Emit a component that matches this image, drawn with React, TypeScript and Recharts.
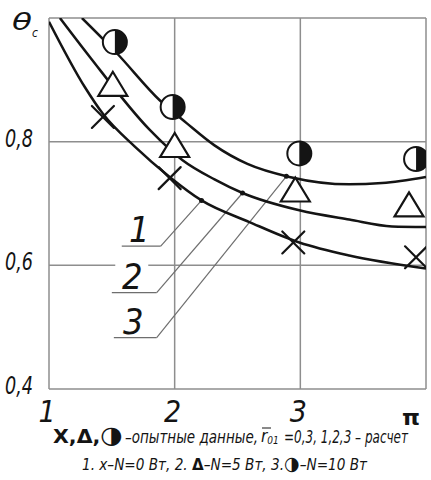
import React from 'react';
import {
  ComposedChart,
  Line,
  Scatter,
  XAxis,
  YAxis,
  CartesianGrid,
  ReferenceLine,
  ReferenceDot,
} from 'recharts';

// ---- axes ----
const xTicks = [1, 2, 3, 4];
const xTickLabels = ['1', '2', '3', ''];
const yTicks = [0.4, 0.6, 0.8, 1.0];
const yTickLabels = ['0,4', '0,6', '0,8', ''];

// ---- calculated curves (1: N=0, 2: N=5, 3: N=10 W) ----
const curveN0 = [
  { x: 1.0, y: 0.994 },
  { x: 1.286, y: 0.888 },
  { x: 1.429, y: 0.845 },
  { x: 1.683, y: 0.792 },
  { x: 1.96, y: 0.743 },
  { x: 2.214, y: 0.705 },
  { x: 2.595, y: 0.67 },
  { x: 2.992, y: 0.637 },
  { x: 3.389, y: 0.616 },
  { x: 4.0, y: 0.595 },
];
const curveN5 = [
  { x: 1.087, y: 1.0 },
  { x: 1.325, y: 0.937 },
  { x: 1.802, y: 0.819 },
  { x: 2.063, y: 0.77 },
  { x: 2.317, y: 0.739 },
  { x: 2.54, y: 0.717 },
  { x: 2.992, y: 0.689 },
  { x: 3.389, y: 0.674 },
  { x: 3.73, y: 0.663 },
  { x: 4.0, y: 0.662 },
];
const curveN10 = [
  { x: 1.262, y: 1.0 },
  { x: 1.54, y: 0.943 },
  { x: 1.881, y: 0.867 },
  { x: 2.095, y: 0.83 },
  { x: 2.317, y: 0.794 },
  { x: 2.579, y: 0.764 },
  { x: 2.913, y: 0.743 },
  { x: 3.389, y: 0.731 },
  { x: 3.651, y: 0.733 },
  { x: 4.0, y: 0.743 },
];

// ---- experimental points ----
const expN0 = [
  { x: 1.429, y: 0.84 },
  { x: 1.96, y: 0.741 },
  { x: 2.944, y: 0.637 },
  { x: 3.921, y: 0.613 },
];
const expN5 = [
  { x: 1.508, y: 0.892 },
  { x: 2.0, y: 0.793 },
  { x: 2.96, y: 0.721 },
  { x: 3.865, y: 0.697 },
];
const expN10 = [
  { x: 1.524, y: 0.961 },
  { x: 1.984, y: 0.856 },
  { x: 2.992, y: 0.781 },
  { x: 3.921, y: 0.772 },
];

// ---- curve labels with leader lines ----
const curveLabels = ['1', '2', '3'];
const labelAnchors = [
  { x1: 1.579, x2: 1.889, y: 0.631, tx: 2.214, ty: 0.705 },
  { x1: 1.5, x2: 1.857, y: 0.556, tx: 2.54, ty: 0.717 },
  { x1: 1.516, x2: 1.857, y: 0.483, tx: 2.889, ty: 0.744 },
];

const narrow = "'Liberation Sans Narrow', 'DejaVu Sans Condensed', 'Liberation Sans', sans-serif";
const dejavu = "'DejaVu Sans', sans-serif";
const ink = '#141414';
const gridColor = '#8e8e8e';

const XTick = (props: any) => {
  const { x, y, payload } = props;
  const i = xTicks.indexOf(payload.value);
  return (
    <text x={x - 2} y={y + 33} textAnchor="middle" fontSize={30} fontStyle="italic"
      fontFamily={narrow} fill={ink}>
      {xTickLabels[i]}
    </text>
  );
};

const YTick = (props: any) => {
  const { x, y, payload } = props;
  const i = yTicks.indexOf(payload.value);
  if (!yTickLabels[i]) return <g />;
  return (
    <text x={x - 44} y={y + 5} textAnchor="start" fontSize={24} fontStyle="italic"
      fontFamily={narrow} fill={ink} textLength={28} lengthAdjust="spacingAndGlyphs">
      {yTickLabels[i]}
    </text>
  );
};

const CrossShape = (p: any) => {
  const { cx, cy } = p;
  const s = 11;
  return (
    <g stroke={ink} strokeWidth={2.2} strokeLinecap="round">
      <line x1={cx - s} y1={cy - s} x2={cx + s} y2={cy + s} />
      <line x1={cx - s} y1={cy + s} x2={cx + s} y2={cy - s} />
    </g>
  );
};

const TriangleShape = (p: any) => {
  const { cx, cy } = p;
  return (
    <polygon
      points={`${cx},${cy - 13} ${cx - 14.5},${cy + 11} ${cx + 14.5},${cy + 11}`}
      fill="#fff" stroke={ink} strokeWidth={2.2} strokeLinejoin="miter" />
  );
};

const HalfCircleShape = (p: any) => {
  const { cx, cy } = p;
  const r = 12;
  return (
    <g>
      <circle cx={cx} cy={cy} r={r} fill="#fff" stroke={ink} strokeWidth={2} />
      <path d={`M ${cx} ${cy - r} A ${r} ${r} 0 0 1 ${cx} ${cy + r} Z`} fill={ink} />
    </g>
  );
};

const makeLabelShape = (text: string, withBg: boolean) => (p: any) => {
  const { cx, cy } = p;
  return (
    <g>
      {withBg && <rect x={cx - 19} y={cy - 32} width={33} height={28} fill="#fff" />}
      <text x={cx - 2} y={cy - 4} textAnchor="middle" fontSize={36} fontStyle="italic"
        fontFamily={narrow} fill={ink}>
        {text}
      </text>
    </g>
  );
};

export default function App() {
  return (
    <div style={{ position: 'absolute', left: 0, top: 0, width: 431, height: 480, background: '#fff' }}>
      <ComposedChart width={431} height={480} margin={{ top: 18, right: 5, bottom: 0, left: 0 }}>
        <CartesianGrid stroke={gridColor} strokeWidth={1.5} />
        <XAxis dataKey="x" type="number" domain={[1, 4]} ticks={xTicks} allowDataOverflow
          axisLine={false} tickLine={false} tickSize={0} tickMargin={0} height={91}
          tick={<XTick />} interval={0} />
        <YAxis type="number" domain={[0.4, 1.0]} ticks={yTicks} allowDataOverflow
          axisLine={false} tickLine={false} tickSize={0} tickMargin={0} width={49}
          tick={<YTick />} interval={0} />

        {labelAnchors.map((a, i) => (
          <ReferenceLine key={'u' + i} segment={[{ x: a.x1, y: a.y }, { x: a.x2, y: a.y }]}
            stroke="#6e6e6e" strokeWidth={1.2} ifOverflow="visible" />
        ))}
        {labelAnchors.map((a, i) => (
          <ReferenceLine key={'l' + i} segment={[{ x: a.x2, y: a.y }, { x: a.tx, y: a.ty }]}
            stroke="#6e6e6e" strokeWidth={1.2} ifOverflow="visible" />
        ))}
        {labelAnchors.map((a, i) => (
          <ReferenceDot key={'t' + i} x={(a.x1 + a.x2) / 2} y={a.y} ifOverflow="visible"
            shape={makeLabelShape(curveLabels[i], i === 1)} />
        ))}

        <Line data={curveN0} dataKey="y" type="monotone" stroke={ink} strokeWidth={2.5}
          dot={false} activeDot={false} isAnimationActive={false} />
        <Line data={curveN5} dataKey="y" type="monotone" stroke={ink} strokeWidth={2.5}
          dot={false} activeDot={false} isAnimationActive={false} />
        <Line data={curveN10} dataKey="y" type="monotone" stroke={ink} strokeWidth={2.5}
          dot={false} activeDot={false} isAnimationActive={false} />

        {labelAnchors.map((a, i) => (
          <ReferenceDot key={'d' + i} x={a.tx} y={a.ty} r={2.5} fill={ink} stroke="none"
            ifOverflow="visible" />
        ))}

        <Scatter data={expN0} dataKey="y" shape={<CrossShape />} isAnimationActive={false} />
        <Scatter data={expN5} dataKey="y" shape={<TriangleShape />} isAnimationActive={false} />
        <Scatter data={expN10} dataKey="y" shape={<HalfCircleShape />} isAnimationActive={false} />
      </ComposedChart>

      <svg width={431} height={480} style={{ position: 'absolute', left: 0, top: 0, pointerEvents: 'none' }}>
        <text x={12} y={30} fontSize={23} fontStyle="italic" fontFamily={dejavu}
          fill={ink} textLength={20} lengthAdjust="spacingAndGlyphs">θ</text>
        <text x={32} y={37} fontSize={12} fontStyle="italic" fontFamily={narrow} fill={ink}>c</text>

        <text x={402} y={425} fontSize={22} fontWeight="bold" fontFamily={dejavu}
          fill={ink} textLength={18} lengthAdjust="spacingAndGlyphs">π</text>

        <text x={53} y={443} fontFamily={dejavu} fill={ink} textLength={70} lengthAdjust="spacingAndGlyphs">
          <tspan fontSize={19} fontWeight="bold">X,Δ,</tspan>
          <tspan fontSize={24}>◑</tspan>
        </text>
        <text x={125} y={443} fontSize={17} fontStyle="italic" fontFamily={narrow} fill={ink}
          textLength={133} lengthAdjust="spacingAndGlyphs">–опытные данные,</text>
        <text x={261} y={442} fontSize={17} fontStyle="italic" fontFamily={narrow} fill={ink}>
          r<tspan fontSize={10} dy={2}>01</tspan>
        </text>
        <line x1={262} y1={428} x2={271} y2={428} stroke={ink} strokeWidth={1} />
        <text x={284} y={443} fontSize={17} fontStyle="italic" fontFamily={narrow} fill={ink}
          textLength={124} lengthAdjust="spacingAndGlyphs">=0,3, 1,2,3 – расчет</text>

        <text x={82} y={470} fontSize={16} fontStyle="italic" fontFamily={narrow} fill={ink}
          textLength={285} lengthAdjust="spacingAndGlyphs">
          1. x–N=0 Вт, 2. <tspan fontStyle="normal" fontWeight="bold" fontFamily={dejavu}>Δ</tspan>–N=5 Вт, 3.<tspan fontStyle="normal" fontFamily={dejavu} fontSize={19}>◑</tspan>–N=10 Вт
        </text>
      </svg>
    </div>
  );
}
